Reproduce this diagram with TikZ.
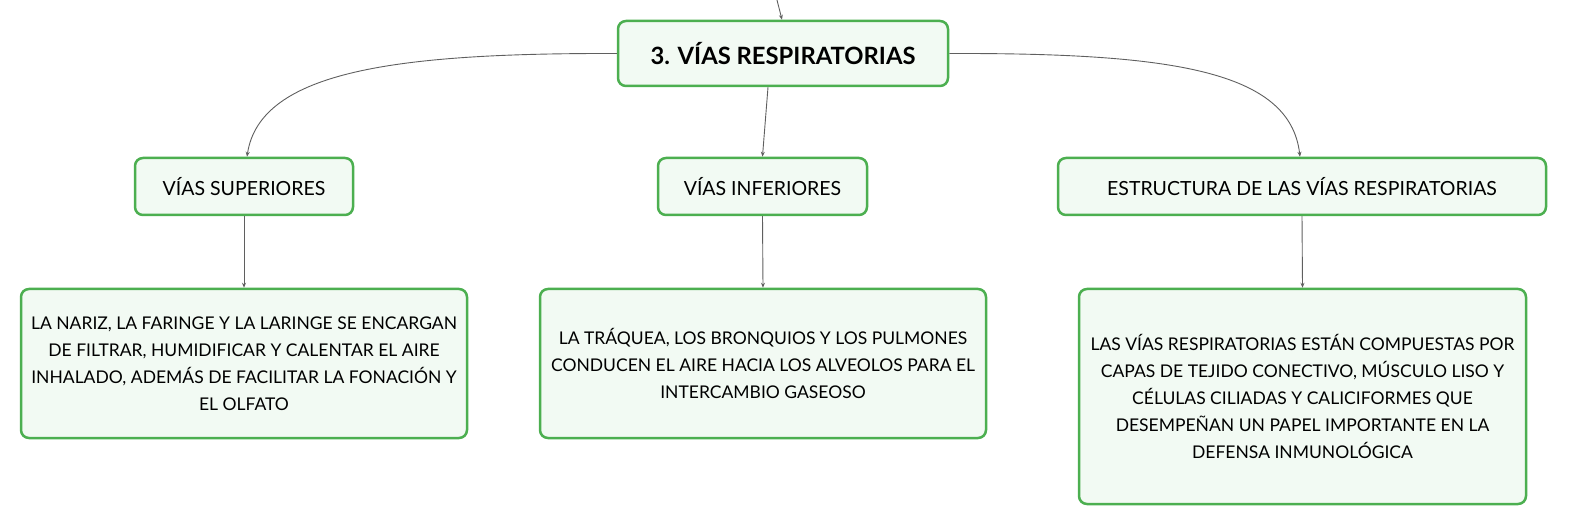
\documentclass[tikz,border=0pt]{standalone}
\usepackage{fontspec}
\setmainfont{Lato}
\usetikzlibrary{arrows.meta}
\definecolor{boxgreen}{RGB}{76,175,80}
\definecolor{boxfill}{RGB}{242,250,243}
\definecolor{linegray}{RGB}{95,95,95}
\begin{document}
\begin{tikzpicture}[x=1pt,y=-1pt,
  box/.style={draw=boxgreen, fill=boxfill, line width=2.5pt, rounded corners=8pt,
    inner sep=0pt, align=center, font=\fontsize{17.5}{27}\selectfont},
  label/.style={box, minimum height=57, font=\fontsize{19.5}{24}\selectfont},
  conn/.style={draw=linegray, line width=0.9pt, -{Stealth[length=5pt,width=4pt]}}]
\useasboundingbox (0,0) rectangle (1569,526);

\node[box, minimum width=330, minimum height=65, font=\bfseries\fontsize{23.8}{28}\selectfont] (top) at (783,53.5) {3. VÍAS RESPIRATORIAS};

\node[label, minimum width=218] (sup) at (244,186.5) {VÍAS SUPERIORES};
\node[label, minimum width=209] (inf) at (762.5,186.5) {VÍAS INFERIORES};
\node[label, minimum width=488] (est) at (1302,186.5) {ESTRUCTURA DE LAS VÍAS RESPIRATORIAS};

\node[box, minimum width=446, minimum height=149] (b1) at (244,363.5) {LA NARIZ, LA FARINGE Y LA LARINGE SE ENCARGAN\\DE FILTRAR, HUMIDIFICAR Y CALENTAR EL AIRE\\INHALADO, ADEMÁS DE FACILITAR LA FONACIÓN Y\\EL OLFATO};
\node[box, minimum width=446, minimum height=149] (b2) at (763,363.5) {LA TRÁQUEA, LOS BRONQUIOS Y LOS PULMONES\\CONDUCEN EL AIRE HACIA LOS ALVEOLOS PARA EL\\INTERCAMBIO GASEOSO};
\node[box, minimum width=447, minimum height=215] (b3) at (1302.5,396.5) {LAS VÍAS RESPIRATORIAS ESTÁN COMPUESTAS POR\\CAPAS DE TEJIDO CONECTIVO, MÚSCULO LISO Y\\CÉLULAS CILIADAS Y CALICIFORMES QUE\\DESEMPEÑAN UN PAPEL IMPORTANTE EN LA\\DEFENSA INMUNOLÓGICA};

\coordinate (in) at (777,0);
\draw[conn] (in) .. controls (779,8) .. ([xshift=-1pt]top.north);
\draw[conn] (top.west) .. controls (400,53) and (260,70) .. ([xshift=3pt]sup.north);
\draw[conn] (top.east) .. controls (1170,53) and (1290,70) .. ([xshift=-2pt]est.north);
\draw[conn] ([xshift=-15pt]top.south) .. controls (765,120) .. (inf.north);
\draw[conn] (sup.south) -- (b1.north);
\draw[conn] (inf.south) -- (b2.north);
\draw[conn] (est.south) -- (b3.north);
\end{tikzpicture}
\end{document}
